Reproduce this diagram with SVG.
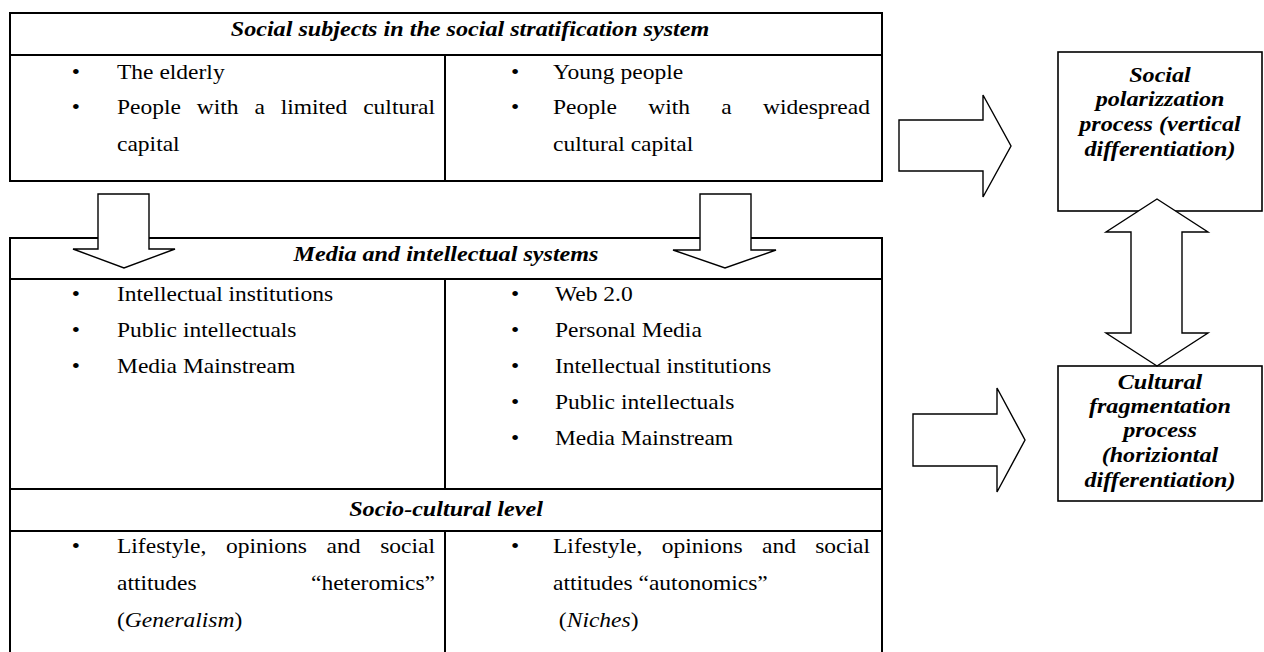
<svg xmlns="http://www.w3.org/2000/svg" width="1264" height="652" viewBox="0 0 1264 652">
<defs>
<style>
.bg{fill:#fff}
.tbl{fill:none;stroke:#000;stroke-width:2}
.box{fill:#fff;stroke:#000;stroke-width:1.6}
.arr{fill:#fff;stroke:#000;stroke-width:1.4;stroke-linejoin:miter}
.r{font-family:"Liberation Serif","Times New Roman",serif;font-size:21px;fill:#000}
.bi{font-family:"Liberation Serif","Times New Roman",serif;font-size:21px;font-weight:bold;font-style:italic;fill:#000}
.it{font-style:italic}
.c{text-anchor:middle}
.e{text-anchor:end}
</style>
</defs>
<rect class="bg" x="0" y="0" width="1264" height="652"/>

<g id="social-subjects-table">
<rect class="tbl" x="10" y="13" width="872" height="168"/>
<line class="tbl" x1="10" y1="55" x2="882" y2="55"/>
<line class="tbl" x1="445" y1="55" x2="445" y2="181"/>
<g transform="scale(1.15 1)">
<text class="bi c" x="408.7" y="36">Social subjects in the social stratification system</text>
</g>
<g transform="scale(1.12 1)" class="r">
<text class="c" x="67.86" y="79">•</text>
<text x="104.46" y="79">The elderly</text>
<text class="c" x="67.86" y="114">•</text>
<text x="104.46" y="114">People</text>
<text x="175.73" y="114">with</text>
<text x="227.18" y="114">a</text>
<text x="250.61" y="114">limited</text>
<text class="e" x="388.39" y="114">cultural</text>
<text x="104.46" y="151">capital</text>
<text class="c" x="459.82" y="79">•</text>
<text x="493.75" y="79">Young people</text>
<text class="c" x="459.82" y="114">•</text>
<text x="493.75" y="114">People</text>
<text x="578.77" y="114">with</text>
<text x="643.97" y="114">a</text>
<text class="e" x="776.79" y="114">widespread</text>
<text x="493.75" y="151">cultural capital</text>
</g>
</g>

<g id="media-table">
<rect class="tbl" x="10" y="238" width="872" height="440"/>
<line class="tbl" x1="10" y1="279" x2="882" y2="279"/>
<line class="tbl" x1="445" y1="279" x2="445" y2="489"/>
<g transform="scale(1.15 1)">
<text class="bi c" x="387.83" y="261">Media and intellectual systems</text>
</g>
<g transform="scale(1.12 1)" class="r">
<text class="c" x="67.86" y="301">•</text>
<text x="104.46" y="301">Intellectual institutions</text>
<text class="c" x="67.86" y="337">•</text>
<text x="104.46" y="337">Public intellectuals</text>
<text class="c" x="67.86" y="373">•</text>
<text x="104.46" y="373">Media Mainstream</text>
<text class="c" x="459.82" y="301">•</text>
<text x="495.5" y="301">Web 2.0</text>
<text class="c" x="459.82" y="337">•</text>
<text x="495.5" y="337">Personal Media</text>
<text class="c" x="459.82" y="373">•</text>
<text x="495.5" y="373">Intellectual institutions</text>
<text class="c" x="459.82" y="409">•</text>
<text x="495.5" y="409">Public intellectuals</text>
<text class="c" x="459.82" y="445">•</text>
<text x="495.5" y="445">Media Mainstream</text>
</g>
</g>

<g id="socio-cultural-table">
<line class="tbl" x1="10" y1="489" x2="882" y2="489"/>
<line class="tbl" x1="10" y1="531" x2="882" y2="531"/>
<line class="tbl" x1="445" y1="531" x2="445" y2="660"/>
<g transform="scale(1.15 1)">
<text class="bi c" x="387.83" y="516">Socio-cultural level</text>
</g>
<g transform="scale(1.12 1)" class="r">
<text class="c" x="67.86" y="553">•</text>
<text x="104.46" y="553">Lifestyle,</text>
<text x="201.82" y="553">opinions</text>
<text x="291.62" y="553">and</text>
<text class="e" x="388.39" y="553">social</text>
<text x="104.46" y="590">attitudes</text>
<text class="e" x="388.39" y="590">“heteromics”</text>
<text x="104.46" y="627">(<tspan class="it">Generalism</tspan>)</text>
<text class="c" x="459.82" y="553">•</text>
<text x="493.75" y="553">Lifestyle,</text>
<text x="590.82" y="553">opinions</text>
<text x="680.33" y="553">and</text>
<text class="e" x="776.79" y="553">social</text>
<text x="493.75" y="590">attitudes “autonomics”</text>
<text x="499" y="627">(<tspan class="it">Niches</tspan>)</text>
</g>
</g>

<g id="polarization-box">
<rect class="box" x="1058" y="52" width="204" height="159"/>
<g transform="scale(1.15 1)" class="bi c">
<text x="1008.7" y="82">Social</text>
<text x="1008.7" y="106">polarizzation</text>
<text x="1008.7" y="131">process (vertical</text>
<text x="1008.7" y="156">differentiation)</text>
</g>
</g>

<g id="fragmentation-box">
<rect class="box" x="1058" y="366" width="204" height="135"/>
<g transform="scale(1.15 1)" class="bi c">
<text x="1008.7" y="389">Cultural</text>
<text x="1008.7" y="413">fragmentation</text>
<text x="1008.7" y="437">process</text>
<text x="1008.7" y="462">(horiziontal</text>
<text x="1008.7" y="487">differentiation)</text>
</g>
</g>

<g id="connectors">
<polygon class="arr" points="98,194 149,194 149,249 175,249 124,268 73,249 98,249"/>
<polygon class="arr" points="700,194 751,194 751,250 776,250 725,268 673,250 700,250"/>
<polygon class="arr" points="899,120 983,120 983,95 1011,146 983,197 983,171 899,171"/>
<polygon class="arr" points="913,414 997,414 997,388 1025,440 997,492 997,466 913,466"/>
<polygon class="arr" points="1157,199 1208,232 1182,232 1182,333 1208,333 1157,366 1106,333 1131,333 1131,232 1106,232"/>
</g>
</svg>
